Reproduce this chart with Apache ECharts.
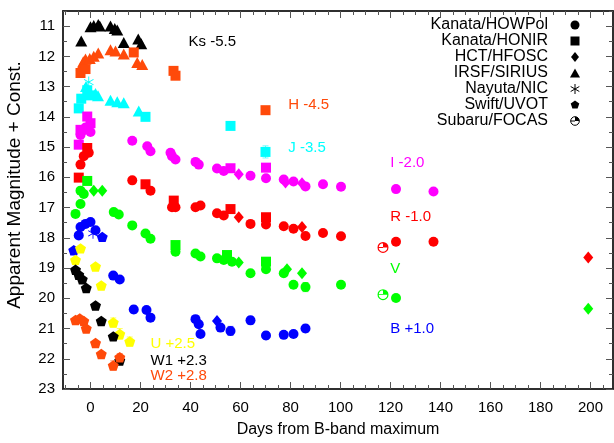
<!DOCTYPE html>
<html>
<head>
<meta charset="utf-8">
<script src="https://cdn.jsdelivr.net/npm/echarts@6/dist/echarts.min.js"></script>
<style>
  html, body { margin: 0; padding: 0; background: #fff; }
  #chart { width: 614px; height: 443px; }
</style>
</head>
<body>
<div id="chart"></div>
<script>
// Light curves: [days from B-band maximum, apparent magnitude + band offset]

// Ks - 5.5
const ksSirius = [[-3.7,11.49],[0,11.02],[1.3,10.98],[3.1,10.95],[3.7,11.0],[8.0,11.0],[9.7,11.08],[10.7,11.13],[13.3,11.54],[19.1,11.43],[20.3,11.58]];

// H - 4.5
const hSirius = [[-3.5,12.3],[-2.9,12.18],[-2.0,12.09],[-0.3,12.07],[1.3,12.0],[3.1,11.89],[8.0,11.78],[10.0,11.82],[13.3,11.92],[18.7,12.2],[20.7,12.27]];
const hHonir = [[-4,12.55],[-2,12.42],[17.3,11.87],[33.2,12.48],[34,12.64],[70,13.78]];

// J - 3.5
const jSirius = [[-1.8,13.0],[2,13.23],[3,13.3],[8,13.45],[10.7,13.5],[13.3,13.53],[19.3,13.81]];
const jHonir = [[-4.7,13.72],[-3.7,13.40],[-1.3,13.12],[0,13.29],[22,14.0],[56,14.3],[70,15.16]];
const jNic = [[-0.7,12.85]];

// I - 2.0
const iHowpol = [[-4,14.6],[-3,14.45],[-2,14.35],[0,14.5],[16.7,14.79],[22.7,14.97],[24,15.14],[32,15.19],[32.6,15.30],[34,15.41],[42,15.49],[43.3,15.58],[50.6,15.71],[53.3,15.79],[64,15.95],[70.2,16.03],[77.3,16.07],[81.2,16.14],[86,16.3],[93,16.23],[100.2,16.31],[122.2,16.39],[137.2,16.47]];
const iHonir = [[-4.7,14.92],[-4,14.43],[-1.3,13.99],[0,14.21],[56,15.7],[70.2,15.68]];
const iHfosc = [[59.3,15.90],[78,16.17],[84.6,16.2]];

// R - 1.0
const rHowpol = [[-0.7,15.19],[-2.7,15.3],[-4,15.58],[16.7,16.10],[24,16.44],[32.6,16.99],[34,16.99],[42,16.99],[44,16.93],[50.6,17.19],[53.3,17.26],[64,17.54],[70.2,17.56],[77.3,17.62],[81.2,17.70],[86,17.94],[93,17.84],[100.2,17.95],[122.2,18.13],[137.2,18.13]];
const rHonir = [[-1.3,15.03],[-4.7,16.01],[22,16.23],[33.3,16.77],[56,17.05],[70.2,17.32]];
const rHfosc = [[59.3,17.32],[84.6,17.64],[199.1,18.65]];
const rFocas = [[117,18.32]];

// V
const vHowpol = [[-4,16.44],[-2.7,16.55],[-4,16.88],[-6,17.21],[9.3,17.15],[11.3,17.23],[16.7,17.59],[22,17.86],[24,18.03],[34,18.46],[42,18.52],[44,18.62],[50.6,18.68],[53.3,18.73],[56.6,18.79],[64,19.17],[70.2,19.04],[77.3,19.17],[81.2,19.55],[86,19.63],[100.2,19.55],[122.2,19.99]];
const vHonir = [[-1.3,16.12],[34,18.24],[54.6,18.57],[70.2,18.79]];
const vHfosc = [[1.3,16.44],[4.7,16.44],[59.3,18.82],[78.6,19.04],[84.6,19.17],[199.1,20.35]];
const vFocas = [[117,19.88]];

// B + 1.0
const bHowpol = [[-4,17.64],[-2,17.54],[0,17.48],[2,17.75],[-4.7,17.92],[9.1,19.25],[11.7,19.38],[17.3,20.37],[22.4,20.39],[24,20.64],[42,20.69],[43.3,20.86],[44,21.18],[52,20.97],[56,21.08],[64,20.73],[70.2,21.23],[77.3,21.21],[81.2,21.18],[86,21.0]];
const bHfosc = [[50.6,20.75]];
const bNic = [[1,17.85]];
const bUvot = [[-6.7,18.41],[4.7,17.97]];

// Swift UV bands
const uUvot = [[-4,18.35],[-6,18.73],[2,18.95],[4.3,19.58],[9.1,20.8],[11.7,21.18],[15.7,21.43]];
const w1Uvot = [[-6,19.06],[-4.7,19.22],[-3.3,19.37],[-1.7,19.66],[2,20.24],[4.3,20.75],[9.1,21.26],[11.7,22.06]];
const w2Uvot = [[-6,20.72],[-4.3,20.67],[-2.7,20.75],[-1.7,21.0],[2,21.48],[4.3,21.84],[9.1,22.22],[11.7,21.95]];

// Uncertainties: [day, mag, sigma]
const errB = [[42,20.69,0.1],[56,21.08,0.15],[64,20.73,0.12],[70.2,21.23,0.12],[77.3,21.21,0.1],[81.2,21.18,0.1],[86,21.0,0.12],[9.1,19.25,0.08],[17.3,20.37,0.12]];
const errU = [[9.1,20.8,0.15],[11.7,21.18,0.18],[15.7,21.43,0.15]];
const errW1 = [[11.7,22.06,0.12]];
const errW2 = [[9.1,22.22,0.15],[11.7,21.95,0.12]];
const errV = [[86,19.63,0.15],[34,18.24,0.08]];
const errI = [[56,15.7,0.08]];
const errJ = [[70,15.16,0.2],[56,14.3,0.08]];
const errH = [[70,13.78,0.12]];

// Band labels: [day, mag, text]
const bandLabels = [
  [39.2, 11.53, 'Ks -5.5'],
  [79.1, 13.59, 'H -4.5'],
  [79.1, 15.03, 'J -3.5'],
  [119.9, 15.52, 'I -2.0'],
  [119.9, 17.32, 'R -1.0'],
  [119.9, 19.02, 'V'],
  [119.9, 21.01, 'B +1.0'],
  [24, 21.5, 'U +2.5'],
  [24, 22.06, 'W1 +2.3'],
  [24, 22.55, 'W2 +2.8']
];

// Axis ticks
const xMajor = [0,20,40,60,80,100,120,140,160,180,200];
const yMajor = [11,12,13,14,15,16,17,18,19,20,21,22,23];
const instruments = ['Kanata/HOWPol','Kanata/HONIR','HCT/HFOSC','IRSF/SIRIUS','Nayuta/NIC','Swift/UVOT','Subaru/FOCAS'];

const xMinor = []; for (let d = -10; d <= 205; d += 5) xMinor.push(d);
const yMinor = []; for (let m = 10.5; m <= 23; m += 0.5) yMinor.push(m);

const C = {
  ks: '#000000', h: '#ff4a0a', j: '#00ffff', i: '#ff00ff', r: '#ff0000',
  v: '#00ff00', b: '#0000ff', u: '#ffff00', w1: '#000000', w2: '#ff4a0a'
};

const PENTAGON = 'path://M0,-1 L0.951,-0.309 L0.588,0.809 L-0.588,0.809 L-0.951,-0.309 Z';
const ASTERISK = 'path://M-0.08,-1 L0.08,-1 L0.08,1 L-0.08,1 Z M0.826,-0.569 L0.906,-0.431 L-0.826,0.569 L-0.906,0.431 Z M-0.906,-0.431 L-0.826,-0.569 L0.906,0.431 L0.826,0.569 Z';
const HALFMOON = 'path://M1,0 A1,1 0 1,1 -1,0 A1,1 0 1,1 1,0 Z M0.78,0 A0.78,0.78 0 1,0 -0.78,0 A0.78,0.78 0 1,0 0.78,0 Z M0,0 L0,-1 A1,1 0 0,1 1,0 Z M-0.9,-0.08 L0,-0.08 L0,0.08 L-0.9,0.08 Z';

const SYM = {
  howpol: { symbol: 'circle', size: 10 },
  honir: { symbol: 'rect', size: 10 },
  hfosc: { symbol: 'diamond', size: [10, 12] },
  sirius: { symbol: 'triangle', size: [12, 11] },
  nic: { symbol: ASTERISK, size: 11 },
  uvot: { symbol: PENTAGON, size: 11 },
  focas: { symbol: HALFMOON, size: 11 }
};

function pts(data, color, kind, z) {
  const s = SYM[kind];
  return {
    type: 'scatter', data: data, symbol: s.symbol, symbolSize: s.size,
    symbolKeepAspect: true, z: z || 3, silent: true,
    itemStyle: { color: color, opacity: 1 }
  };
}

function errs(data, color) {
  return {
    type: 'custom', silent: true, z: 2,
    data: data,
    renderItem: function (params, api) {
      const x = api.value(0), y = api.value(1), e = api.value(2);
      const p1 = api.coord([x, y - e]), p2 = api.coord([x, y + e]);
      const w = 3;
      return {
        type: 'group',
        children: [
          { type: 'line', shape: { x1: p1[0], y1: p1[1], x2: p2[0], y2: p2[1] }, style: { stroke: color, lineWidth: 1, opacity: 0.6 } },
          { type: 'line', shape: { x1: p1[0] - w, y1: p1[1], x2: p1[0] + w, y2: p1[1] }, style: { stroke: color, lineWidth: 1, opacity: 0.6 } },
          { type: 'line', shape: { x1: p2[0] - w, y1: p2[1], x2: p2[0] + w, y2: p2[1] }, style: { stroke: color, lineWidth: 1, opacity: 0.6 } }
        ]
      };
    }
  };
}

const series = [
  errs(errB, C.b), errs(errU, C.u), errs(errW1, C.w1), errs(errW2, C.w2),
  errs(errV, C.v), errs(errI, C.i), errs(errJ, C.j), errs(errH, C.h),
  pts(ksSirius, C.ks, 'sirius'),
  pts(hSirius, C.h, 'sirius'), pts(hHonir, C.h, 'honir'),
  pts(jSirius, C.j, 'sirius'), pts(jHonir, C.j, 'honir'), pts(jNic, C.j, 'nic'),
  pts(iHowpol, C.i, 'howpol'), pts(iHonir, C.i, 'honir'), pts(iHfosc, C.i, 'hfosc'),
  pts(rHowpol, C.r, 'howpol'), pts(rHonir, C.r, 'honir'), pts(rHfosc, C.r, 'hfosc'), pts(rFocas, C.r, 'focas'),
  pts(vHowpol, C.v, 'howpol'), pts(vHonir, C.v, 'honir'), pts(vHfosc, C.v, 'hfosc'), pts(vFocas, C.v, 'focas'),
  pts(bHowpol, C.b, 'howpol'), pts(bHfosc, C.b, 'hfosc'), pts(bNic, C.b, 'nic'), pts(bUvot, C.b, 'uvot'),
  pts(uUvot, C.u, 'uvot'), pts(w1Uvot, C.w1, 'uvot'), pts(w2Uvot, C.w2, 'uvot')
];

const FONT = "'Liberation Sans', Arial, Helvetica, sans-serif";
const XMIN = -11, XMAX = 209, YMIN = 10.5, YMAX = 23;

function xAx(pos, showLabel, ticks, len, name) {
  return {
    type: 'value', position: pos, min: XMIN, max: XMAX,
    name: name || '', nameLocation: 'middle', nameGap: 33,
    nameTextStyle: { fontFamily: FONT, fontSize: 16, color: '#000' },
    axisLine: { show: true, onZero: false, lineStyle: { color: '#222', width: 1.5 } },
    splitLine: { show: false },
    axisTick: { show: true, inside: true, length: len, customValues: ticks, lineStyle: { color: '#555', width: 1 } },
    axisLabel: { show: showLabel, customValues: xMajor, margin: 11, fontFamily: FONT, fontSize: 15, color: '#000' }
  };
}
function yAx(pos, showLabel, ticks, len) {
  return {
    type: 'value', position: pos, inverse: true, min: YMIN, max: YMAX,
    axisLine: { show: true, onZero: false, lineStyle: { color: '#222', width: 1.5 } },
    splitLine: { show: false },
    axisTick: { show: true, inside: true, length: len, customValues: ticks, lineStyle: { color: '#555', width: 1 } },
    axisLabel: { show: showLabel, customValues: yMajor, margin: 8, fontFamily: FONT, fontSize: 15, color: '#000' }
  };
}

const chart = echarts.init(document.getElementById('chart'), null, { renderer: 'canvas' });
chart.setOption({
  animation: false,
  backgroundColor: '#fff',
  grid: { left: 63, top: 11, right: 1, bottom: 49, containLabel: false },
  xAxis: [
    xAx('bottom', true, xMajor, 7, 'Days from B-band maximum'),
    xAx('bottom', false, xMinor, 4),
    xAx('top', false, xMajor, 7),
    xAx('top', false, xMinor, 4)
  ],
  yAxis: [
    yAx('left', true, yMajor, 7),
    yAx('left', false, yMinor, 4),
    yAx('right', false, yMajor, 7),
    yAx('right', false, yMinor, 4)
  ],
  series: series
});

// Band labels, legend and y-axis title
const labelColors = [C.ks, C.h, C.j, C.i, C.r, C.v, C.b, C.u, C.w1, C.w2];
const graphics = [];
bandLabels.forEach(function (lb, k) {
  const p = chart.convertToPixel({ xAxisIndex: 0, yAxisIndex: 0 }, [lb[0], lb[1]]);
  graphics.push({
    type: 'text', x: p[0], y: p[1], silent: true,
    style: { text: lb[2], fill: labelColors[k], font: '15px ' + FONT, textAlign: 'left', textVerticalAlign: 'middle' }
  });
});

const legendShapes = [
  { type: 'circle', shape: { cx: 0, cy: 0, r: 4.5 } },
  { type: 'rect', shape: { x: -4.5, y: -4.5, width: 9, height: 9 } },
  { type: 'polygon', shape: { points: [[0,-5],[4,0],[0,5],[-4,0]] } },
  { type: 'polygon', shape: { points: [[0,-4.5],[5,4.5],[-5,4.5]] } },
  null,
  { type: 'polygon', shape: { points: [[0,-4.5],[4.3,-1.4],[2.6,3.6],[-2.6,3.6],[-4.3,-1.4]] } },
  null
];
instruments.forEach(function (name, k) {
  const y = 25 + k * 16;
  graphics.push({
    type: 'text', x: 548, y: y, silent: true,
    style: { text: name, fill: '#000', font: '16px ' + FONT, textAlign: 'right', textVerticalAlign: 'middle' }
  });
  const mx = 575;
  if (legendShapes[k]) {
    const s = JSON.parse(JSON.stringify(legendShapes[k]));
    s.x = mx; s.y = y; s.style = { fill: '#000' }; s.silent = true;
    graphics.push(s);
  } else if (k === 4) {
    [0, 60, 120].forEach(function (a) {
      const r = a * Math.PI / 180;
      graphics.push({ type: 'line', silent: true, shape: { x1: mx - 5 * Math.sin(r), y1: y - 5 * Math.cos(r), x2: mx + 5 * Math.sin(r), y2: y + 5 * Math.cos(r) }, style: { stroke: '#000', lineWidth: 1 } });
    });
  } else {
    graphics.push({ type: 'circle', silent: true, shape: { cx: mx, cy: y, r: 4.3 }, style: { fill: 'none', stroke: '#000', lineWidth: 1 } });
    graphics.push({ type: 'sector', silent: true, shape: { cx: mx, cy: y, r: 4.3, r0: 0, startAngle: -Math.PI / 2, endAngle: 0 }, style: { fill: '#000' } });
    graphics.push({ type: 'line', silent: true, shape: { x1: mx - 4.3, y1: y, x2: mx, y2: y }, style: { stroke: '#000', lineWidth: 1 } });
  }
});

graphics.push({
  type: 'text', x: 15, y: 185, rotation: Math.PI / 2, silent: true,
  style: { text: 'Apparent Magnitude + Const.', fill: '#000', font: '19px ' + FONT, textAlign: 'center', textVerticalAlign: 'middle' }
});

chart.setOption({ graphic: { elements: graphics } });
</script>
</body>
</html>
